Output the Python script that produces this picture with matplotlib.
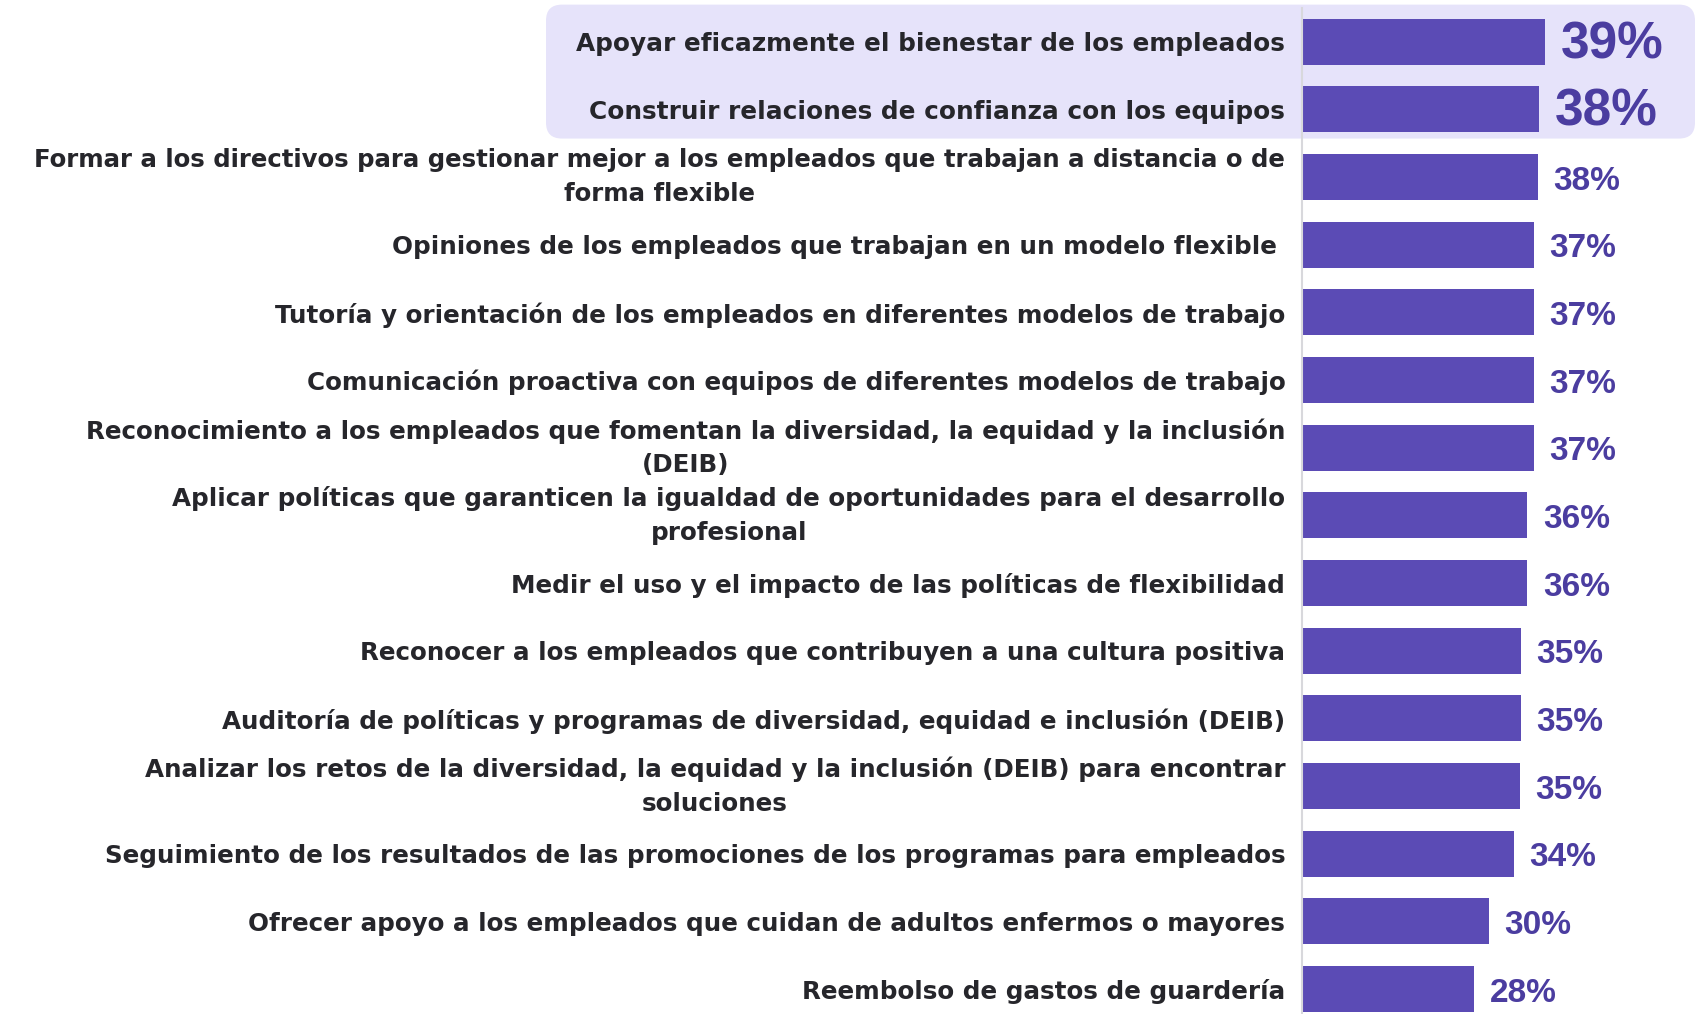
import numpy as np
import matplotlib.pyplot as plt
from matplotlib.patches import FancyBboxPatch
from matplotlib.transforms import IdentityTransform

labels = [
    "Apoyar eficazmente el bienestar de los empleados",
    "Construir relaciones de confianza con los equipos",
    "Formar a los directivos para gestionar mejor a los empleados que trabajan a distancia o de\nforma flexible",
    "Opiniones de los empleados que trabajan en un modelo flexible ",
    "Tutoría y orientación de los empleados en diferentes modelos de trabajo",
    "Comunicación proactiva con equipos de diferentes modelos de trabajo",
    "Reconocimiento a los empleados que fomentan la diversidad, la equidad y la inclusión\n(DEIB)",
    "Aplicar políticas que garanticen la igualdad de oportunidades para el desarrollo\nprofesional",
    "Medir el uso y el impacto de las políticas de flexibilidad",
    "Reconocer a los empleados que contribuyen a una cultura positiva",
    "Auditoría de políticas y programas de diversidad, equidad e inclusión (DEIB)",
    "Analizar los retos de la diversidad, la equidad y la inclusión (DEIB) para encontrar\nsoluciones",
    "Seguimiento de los resultados de las promociones de los programas para empleados",
    "Ofrecer apoyo a los empleados que cuidan de adultos enfermos o mayores",
    "Reembolso de gastos de guardería",
]
values = [39.0, 38.0, 37.9, 37.2, 37.2, 37.2, 37.2, 36.2, 36.2, 35.1, 35.1, 35.0, 34.0, 30.0, 27.6]
value_labels = ["39%", "38%", "38%", "37%", "37%", "37%", "37%", "36%", "36%",
                "35%", "35%", "35%", "34%", "30%", "28%"]
highlight = 2  # first rows drawn in the shaded box

bar_color = "#5B4BB5"
val_color = "#4B3DA0"
text_color = "#26262B"
box_color = "#E6E3FA"

W, H = 1698, 1014
fig = plt.figure(figsize=(W / 100, H / 100), dpi=100)
ax = fig.add_axes([1302 / W, 0, 1 - 1302 / W, 1 - 8 / H])
ax.set_facecolor("none")

y = np.arange(len(values))
ax.barh(y, values, height=0.68, color=bar_color, zorder=2)
ax.set_xlim(0, 63.6)
ax.set_ylim(14.37, -0.5)

for i, (v, t) in enumerate(zip(values, value_labels)):
    if i < highlight:
        ax.text(v + 2.6, i + 0.04, t, va="center", ha="left", fontsize=37,
                fontweight="bold", color=val_color, family="Liberation Sans")
    else:
        ax.text(v + 2.5, i + 0.06, t, va="center", ha="left", fontsize=24,
                fontweight="bold", color=val_color, family="Liberation Sans")

ax.set_yticks(y)
ax.set_yticklabels(labels, fontsize=17.7, fontweight="bold", color=text_color,
                   family="DejaVu Sans", multialignment="center",
                   linespacing=1.5)
for i, lbl in enumerate(ax.get_yticklabels()):
    if "\n" in labels[i]:
        lbl.set_va("center")
    if i == 2:
        lbl.set_fontsize(17.55)
    elif i < highlight:
        lbl.set_fontsize(17.8)
ax.tick_params(axis="y", length=0, pad=12)
ax.set_xticks([])
for s in ["top", "right", "bottom"]:
    ax.spines[s].set_visible(False)
ax.spines["left"].set_color("#D8D8DC")
ax.spines["left"].set_linewidth(1.5)

# shaded box behind the first rows
fig.canvas.draw()
y_top = ax.transData.transform((0, -0.55))[1]
y_bot = ax.transData.transform((0, highlight - 1 + 0.43))[1]
box = FancyBboxPatch((546, y_bot), 1695 - 546, y_top - y_bot,
                     boxstyle="round,pad=0,rounding_size=16",
                     transform=IdentityTransform(), facecolor=box_color,
                     edgecolor="none", zorder=-1)
fig.add_artist(box)

fig.savefig("out.png", dpi=100)
